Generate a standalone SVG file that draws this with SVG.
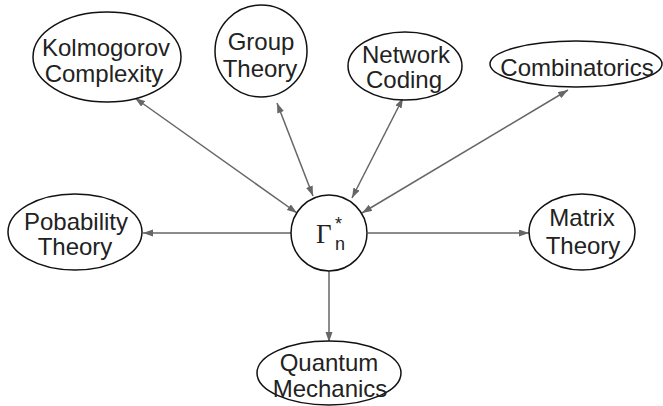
<svg xmlns="http://www.w3.org/2000/svg" width="663" height="406" viewBox="0 0 663 406">
<style>
.node{fill:#fff;stroke:#111;stroke-width:1.5}
.lbl{font-family:"Liberation Sans",Arial,sans-serif;font-size:24px;fill:#222;text-anchor:middle}
.edge{stroke:#666;stroke-width:1.5;fill:none}
</style>
<defs>
<marker id="ah" markerUnits="userSpaceOnUse" markerWidth="11" markerHeight="8" refX="10" refY="3.5" orient="auto-start-reverse" viewBox="0 0 11 8">
<path d="M0,0 L10,3.5 L0,7 z" fill="#666"/>
</marker>
</defs>
<rect width="663" height="406" fill="#fff"/>
<g id="connectors">
<line class="edge" x1="297" y1="213" x2="135" y2="98" marker-start="url(#ah)" marker-end="url(#ah)"/>
<line class="edge" x1="313" y1="196" x2="277" y2="103" marker-start="url(#ah)" marker-end="url(#ah)"/>
<line class="edge" x1="352" y1="198" x2="403" y2="98" marker-start="url(#ah)" marker-end="url(#ah)"/>
<line class="edge" x1="362" y1="213" x2="568" y2="90" marker-start="url(#ah)" marker-end="url(#ah)"/>
<line class="edge" x1="291" y1="233" x2="143" y2="233" marker-end="url(#ah)"/>
<line class="edge" x1="368" y1="233" x2="529" y2="233" marker-end="url(#ah)"/>
<line class="edge" x1="329" y1="271" x2="329" y2="342" marker-end="url(#ah)"/>
</g>
<g id="gamma">
<circle class="node" cx="329" cy="233" r="38"/>
<text x="316" y="243" font-family="Liberation Serif,serif" font-size="27" fill="#222">Γ</text>
<text x="335" y="250" font-family="Liberation Sans,sans-serif" font-size="18" fill="#222">n</text>
<text x="335" y="230" font-family="Liberation Sans,sans-serif" font-size="18" fill="#222">*</text>
</g>
<g id="kolmogorov">
<ellipse class="node" cx="107" cy="57" rx="74" ry="45"/>
<text class="lbl" x="106" y="56">Kolmogorov</text>
<text class="lbl" x="104" y="82">Complexity</text>
</g>
<g id="group">
<ellipse class="node" cx="261" cy="51" rx="46" ry="46"/>
<text class="lbl" x="261" y="50">Group</text>
<text class="lbl" x="260" y="77">Theory</text>
</g>
<g id="network">
<ellipse class="node" cx="405" cy="66" rx="57" ry="34"/>
<text class="lbl" x="406" y="63">Network</text>
<text class="lbl" x="404" y="88">Coding</text>
</g>
<g id="combinatorics">
<ellipse class="node" cx="576" cy="64" rx="86" ry="23"/>
<text class="lbl" x="577" y="76">Combinatorics</text>
</g>
<g id="probability">
<ellipse class="node" cx="75" cy="232" rx="67" ry="38"/>
<text class="lbl" x="76" y="230">Pobability</text>
<text class="lbl" x="75" y="255">Theory</text>
</g>
<g id="matrix">
<ellipse class="node" cx="582" cy="232" rx="53" ry="38"/>
<text class="lbl" x="582" y="226">Matrix</text>
<text class="lbl" x="583" y="254">Theory</text>
</g>
<g id="quantum">
<ellipse class="node" cx="329" cy="373" rx="72" ry="32"/>
<text class="lbl" x="329" y="371">Quantum</text>
<text class="lbl" x="330" y="397">Mechanics</text>
</g>
</svg>
